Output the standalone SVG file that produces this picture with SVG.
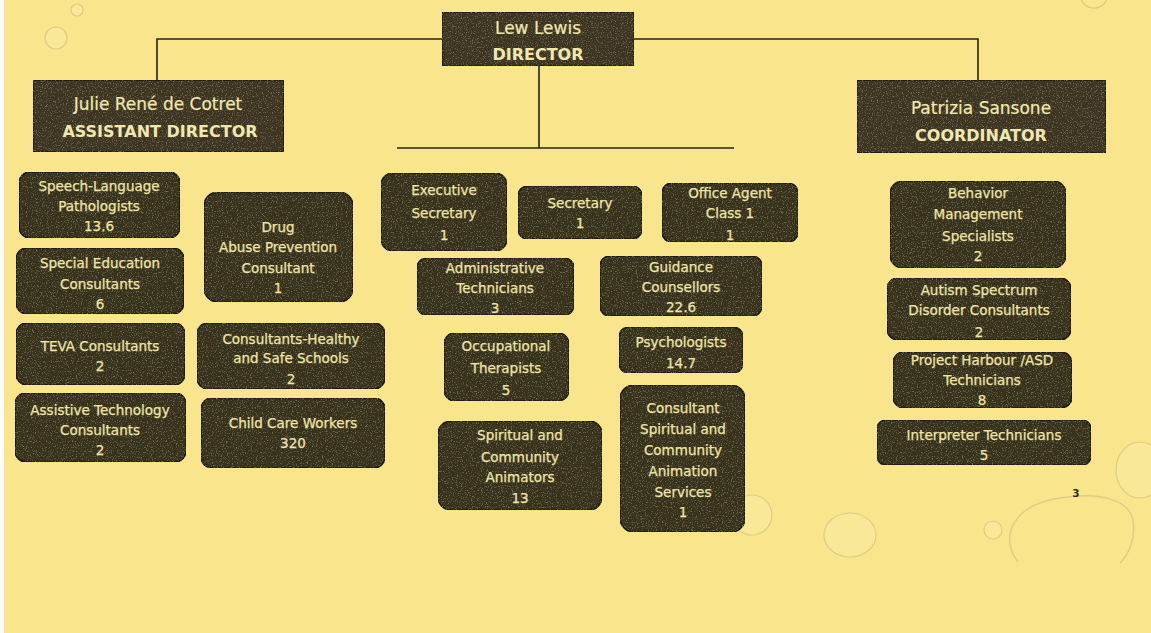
<svg xmlns="http://www.w3.org/2000/svg" width="1151" height="633" viewBox="0 0 1151 633">
<style>
.bg{fill:#f9e58b}
.box{fill:#39331f;stroke:#1a170f;stroke-width:1.6}
.hdr{fill:#3c3624;stroke:#1a170f;stroke-width:1.6}
.t{font-family:"DejaVu Sans",sans-serif;font-size:13.5px;fill:#f0e5a6;stroke:#f0e5a6;stroke-width:0.25;text-anchor:middle}
.hn{font-family:"DejaVu Sans",sans-serif;font-size:17px;fill:#f2e8ae;stroke:#f2e8ae;stroke-width:0.2;text-anchor:middle}
.hb{font-family:"DejaVu Sans",sans-serif;font-size:16px;font-weight:bold;fill:#f2e8ae;text-anchor:middle}
.ln{stroke:#25231a;stroke-width:1.6;fill:none}
.bub{fill:#faea9c;stroke:#d6c47f;stroke-width:1.2;opacity:0.75}
.bubo{fill:none;stroke:#d3c282;stroke-width:1.4;opacity:0.7}
</style>
<defs>
<filter id="grain" x="0" y="0" width="100%" height="100%">
<feTurbulence type="fractalNoise" baseFrequency="0.8" numOctaves="2" seed="3" result="n"/>
<feColorMatrix in="n" type="matrix" values="0 0 0 0 0.45  0 0 0 0 0.42  0 0 0 0 0.27  0 0 0 1.3 -0.72" result="s"/>
<feComposite in="s" in2="SourceGraphic" operator="in" result="t"/>
<feMerge><feMergeNode in="SourceGraphic"/><feMergeNode in="t"/></feMerge>
</filter>
</defs>
<rect x="0" y="0" width="1151" height="633" fill="#ffffff"/>
<rect class="bg" x="4" y="0" width="1147" height="633"/>
<g id="decor">
<circle class="bub" cx="77" cy="10" r="6"/>
<circle class="bub" cx="56" cy="38" r="11"/>
<circle class="bubo" cx="1094" cy="-6" r="14"/>
<circle class="bub" cx="752" cy="515" r="20"/>
<ellipse class="bub" cx="850" cy="535" rx="26" ry="22"/>
<circle class="bub" cx="993" cy="530" r="9"/>
<path class="bubo" d="M1018 562 C1000 540 1010 505 1060 498 C1110 490 1130 505 1133 520 C1136 540 1128 555 1120 563"/>
<ellipse class="bub" cx="1140" cy="470" rx="24" ry="28"/>
<text x="1076" y="497" font-family="DejaVu Sans,sans-serif" font-size="10" font-weight="bold" fill="#2a2618" text-anchor="middle">3</text>
</g>
<g id="connectors">
<path class="ln" d="M157 80 V39 H978 V80"/>
<path class="ln" d="M539 66 V148"/>
<path class="ln" d="M397 148 H734"/>
</g>
<g id="director">
<rect class="hdr" filter="url(#grain)" x="442" y="12" width="192" height="54"/>
<text class="hn" x="538" y="34">Lew Lewis</text>
<text class="hb" x="538" y="60" font-size="16.5">DIRECTOR</text>
</g>
<g id="assistant-director">
<rect class="hdr" filter="url(#grain)" x="33" y="80" width="251" height="72"/>
<text class="hn" x="158" y="110">Julie René de Cotret</text>
<text class="hb" x="160" y="137">ASSISTANT DIRECTOR</text>
</g>
<g id="coordinator">
<rect class="hdr" filter="url(#grain)" x="857" y="80" width="249" height="73"/>
<text class="hn" x="981" y="114">Patrizia Sansone</text>
<text class="hb" x="981" y="141">COORDINATOR</text>
</g>
<g id="speech">
<rect class="box" filter="url(#grain)" x="19" y="172" width="161" height="66" rx="11"/>
<text class="t" x="99" y="191">Speech-Language</text>
<text class="t" x="99" y="211">Pathologists</text>
<text class="t" x="99" y="231">13.6</text>
</g>
<g id="drug">
<rect class="box" filter="url(#grain)" x="204" y="192" width="149" height="110" rx="14"/>
<text class="t" x="278" y="232">Drug</text>
<text class="t" x="278" y="252">Abuse Prevention</text>
<text class="t" x="278" y="273">Consultant</text>
<text class="t" x="278" y="293">1</text>
</g>
<g id="special-ed">
<rect class="box" filter="url(#grain)" x="16" y="248" width="168" height="66" rx="11"/>
<text class="t" x="100" y="268">Special Education</text>
<text class="t" x="100" y="289">Consultants</text>
<text class="t" x="100" y="309">6</text>
</g>
<g id="teva">
<rect class="box" filter="url(#grain)" x="16" y="323" width="169" height="62" rx="11"/>
<text class="t" x="100" y="351">TEVA Consultants</text>
<text class="t" x="100" y="371">2</text>
</g>
<g id="healthy">
<rect class="box" filter="url(#grain)" x="197" y="323" width="188" height="66" rx="11"/>
<text class="t" x="291" y="344">Consultants-Healthy</text>
<text class="t" x="291" y="363">and Safe  Schools</text>
<text class="t" x="291" y="384">2</text>
</g>
<g id="assistive">
<rect class="box" filter="url(#grain)" x="15" y="393" width="171" height="69" rx="11"/>
<text class="t" x="100" y="415">Assistive Technology</text>
<text class="t" x="100" y="435">Consultants</text>
<text class="t" x="100" y="455">2</text>
</g>
<g id="childcare">
<rect class="box" filter="url(#grain)" x="201" y="398" width="184" height="70" rx="11"/>
<text class="t" x="293" y="428">Child Care Workers</text>
<text class="t" x="293" y="448">320</text>
</g>
<g id="exec-sec">
<rect class="box" filter="url(#grain)" x="381" y="173" width="126" height="78" rx="12"/>
<text class="t" x="444" y="195">Executive</text>
<text class="t" x="444" y="218">Secretary</text>
<text class="t" x="444" y="240">1</text>
</g>
<g id="secretary">
<rect class="box" filter="url(#grain)" x="518" y="186" width="124" height="53" rx="10"/>
<text class="t" x="580" y="208">Secretary</text>
<text class="t" x="580" y="228">1</text>
</g>
<g id="office-agent">
<rect class="box" filter="url(#grain)" x="662" y="183" width="136" height="59" rx="10"/>
<text class="t" x="730" y="198">Office Agent</text>
<text class="t" x="730" y="218">Class 1</text>
<text class="t" x="730" y="240">1</text>
</g>
<g id="admin-tech">
<rect class="box" filter="url(#grain)" x="417" y="258" width="157" height="57" rx="10"/>
<text class="t" x="495" y="273">Administrative</text>
<text class="t" x="495" y="293">Technicians</text>
<text class="t" x="495" y="313">3</text>
</g>
<g id="guidance">
<rect class="box" filter="url(#grain)" x="600" y="256" width="162" height="60" rx="10"/>
<text class="t" x="681" y="272">Guidance</text>
<text class="t" x="681" y="292">Counsellors</text>
<text class="t" x="681" y="312">22.6</text>
</g>
<g id="occupational">
<rect class="box" filter="url(#grain)" x="444" y="333" width="125" height="68" rx="11"/>
<text class="t" x="506" y="351">Occupational</text>
<text class="t" x="506" y="373">Therapists</text>
<text class="t" x="506" y="395">5</text>
</g>
<g id="psychologists">
<rect class="box" filter="url(#grain)" x="619" y="327" width="124" height="46" rx="10"/>
<text class="t" x="681" y="347">Psychologists</text>
<text class="t" x="681" y="368">14.7</text>
</g>
<g id="spiritual-animators">
<rect class="box" filter="url(#grain)" x="438" y="421" width="164" height="89" rx="13"/>
<text class="t" x="520" y="440">Spiritual and</text>
<text class="t" x="520" y="462">Community</text>
<text class="t" x="520" y="482">Animators</text>
<text class="t" x="520" y="503">13</text>
</g>
<g id="consultant-spiritual">
<rect class="box" filter="url(#grain)" x="620" y="385" width="125" height="147" rx="14"/>
<text class="t" x="683" y="413">Consultant</text>
<text class="t" x="683" y="434">Spiritual and</text>
<text class="t" x="683" y="455">Community</text>
<text class="t" x="683" y="476">Animation</text>
<text class="t" x="683" y="497">Services</text>
<text class="t" x="683" y="517">1</text>
</g>
<g id="behavior">
<rect class="box" filter="url(#grain)" x="890" y="181" width="176" height="87" rx="13"/>
<text class="t" x="978" y="198">Behavior</text>
<text class="t" x="978" y="219">Management</text>
<text class="t" x="978" y="241">Specialists</text>
<text class="t" x="978" y="261">2</text>
</g>
<g id="autism">
<rect class="box" filter="url(#grain)" x="887" y="278" width="184" height="62" rx="11"/>
<text class="t" x="979" y="295">Autism Spectrum</text>
<text class="t" x="979" y="315">Disorder Consultants</text>
<text class="t" x="979" y="337">2</text>
</g>
<g id="harbour">
<rect class="box" filter="url(#grain)" x="893" y="352" width="179" height="56" rx="11"/>
<text class="t" x="982" y="365">Project Harbour /ASD</text>
<text class="t" x="982" y="385">Technicians</text>
<text class="t" x="982" y="405">8</text>
</g>
<g id="interpreter">
<rect class="box" filter="url(#grain)" x="877" y="420" width="214" height="45" rx="9"/>
<text class="t" x="984" y="440">Interpreter Technicians</text>
<text class="t" x="984" y="460">5</text>
</g>
</svg>
